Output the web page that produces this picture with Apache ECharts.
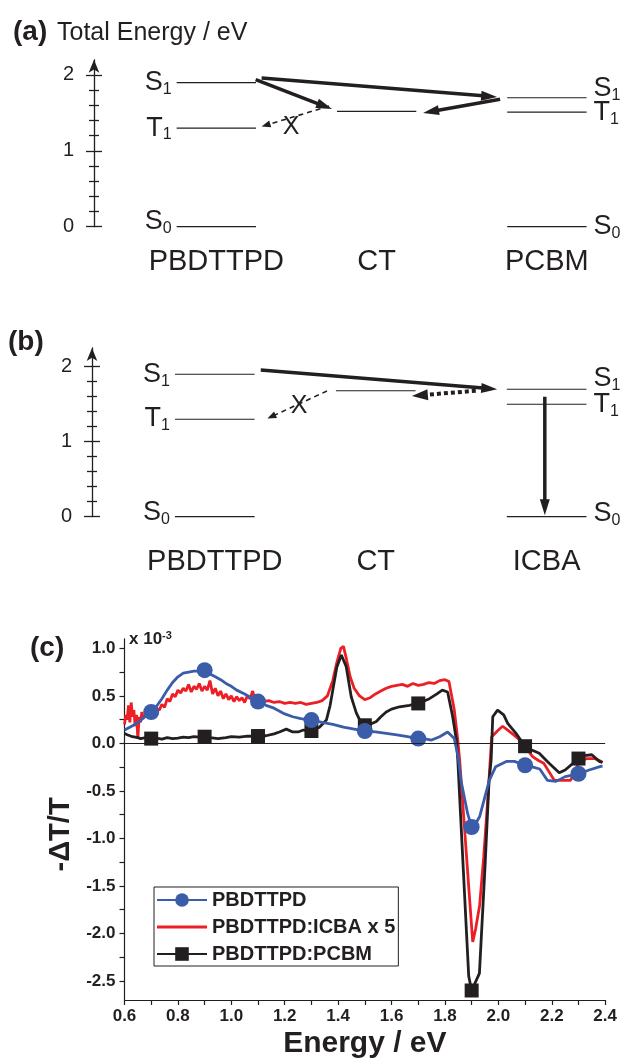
<!DOCTYPE html>
<html>
<head>
<meta charset="utf-8">
<script src="https://cdn.jsdelivr.net/npm/echarts@6/dist/echarts.min.js"></script>
<style>
  html, body { margin: 0; padding: 0; background: #fff; }
  #chart { width: 620px; height: 1060px; }
</style>
</head>
<body>
<div id="chart"></div>
<script>
// ---- energy diagrams (a), (b) ----
const levelNames = ['S1', 'T1', 'S0'];
const pbdttpdLevels = [1.90, 1.30, 0.00];
const ctLevelA = [1.52];
const pcbmLevels = [1.70, 1.51, 0.00];
const ctLevelB = [1.68];
const icbaLevels = [1.70, 1.50, 0.00];
const columnsA = ['PBDTTPD', 'CT', 'PCBM'];
const columnsB = ['PBDTTPD', 'CT', 'ICBA'];
const energyTicks = [0, 1, 2];
const energyMinorTicks = [0.2, 0.4, 0.6, 0.8, 1.2, 1.4, 1.6, 1.8];

// transfer arrows: [x1, E1, x2, E2, kind]  (x in column units)
const arrowsA = [
  [0.274, 1.96, 1.699, 1.71, 'bold'],
  [0.238, 1.94, 0.700, 1.55, 'bold'],
  [1.717, 1.68, 1.251, 1.50, 'bold'],
  [0.682, 1.59, 0.274, 1.32, 'dash']
];
const blockedA = [[0.452, 1.31]];
const arrowsB = [
  [0.277, 1.956, 1.702, 1.70, 'bold'],
  [1.573, 1.68, 1.188, 1.61, 'dots'],
  [0.676, 1.676, 0.317, 1.31, 'dash'],
  [1.989, 1.60, 1.989, 0.02, 'bold']
];
const blockedB = [[0.508, 1.476]];

// ---- transient spectra (c), -dT/T x 1e-3 vs energy (eV) ----
const markerEnergies = [0.7, 0.9, 1.1, 1.3, 1.5, 1.7, 1.9, 2.1, 2.3];
const xLabels = [0.6, 0.8, 1.0, 1.2, 1.4, 1.6, 1.8, 2.0, 2.2, 2.4];
const xTicks = [0.6, 0.7, 0.8, 0.9, 1.0, 1.1, 1.2, 1.3, 1.4, 1.5, 1.6, 1.7, 1.8, 1.9, 2.0, 2.1, 2.2, 2.3, 2.4];
const yLabels = [-2.5, -2.0, -1.5, -1.0, -0.5, 0.0, 0.5, 1.0];
const yTicks = [-2.5, -2.25, -2.0, -1.75, -1.5, -1.25, -1.0, -0.75, -0.5, -0.25, 0, 0.25, 0.5, 0.75, 1.0];

const pbdttpd = [
  [0.60, 0.14], [0.62, 0.17], [0.64, 0.20], [0.66, 0.24], [0.68, 0.29], [0.70, 0.33],
  [0.72, 0.39], [0.74, 0.47], [0.76, 0.56], [0.78, 0.64], [0.80, 0.70], [0.82, 0.74],
  [0.84, 0.75], [0.86, 0.76], [0.88, 0.76], [0.90, 0.77], [0.92, 0.73], [0.94, 0.70],
  [0.96, 0.67], [0.98, 0.63], [1.00, 0.60], [1.02, 0.56], [1.05, 0.52], [1.08, 0.47],
  [1.10, 0.44], [1.13, 0.40], [1.16, 0.37], [1.20, 0.31], [1.23, 0.28], [1.26, 0.26],
  [1.30, 0.245], [1.34, 0.22], [1.38, 0.20], [1.42, 0.17], [1.46, 0.15], [1.50, 0.13],
  [1.54, 0.12], [1.58, 0.105], [1.62, 0.09], [1.66, 0.07], [1.70, 0.05], [1.73, 0.045],
  [1.75, 0.035], [1.78, 0.07], [1.81, 0.12], [1.835, 0.05], [1.85, -0.15], [1.86, -0.39],
  [1.885, -0.74], [1.90, -0.88], [1.91, -0.87], [1.93, -0.77], [1.966, -0.39], [1.99, -0.245],
  [2.03, -0.19], [2.06, -0.19], [2.10, -0.23], [2.13, -0.25], [2.155, -0.27], [2.184, -0.39],
  [2.216, -0.40], [2.25, -0.35], [2.30, -0.32], [2.34, -0.28], [2.38, -0.245], [2.39, -0.24]
];

const pbdttpdIcba = [
  [0.600, 0.20], [0.605, 0.30], [0.610, 0.25], [0.615, 0.40], [0.620, 0.22], [0.625, 0.43],
  [0.630, 0.28], [0.635, 0.35], [0.640, 0.18], [0.645, 0.30], [0.650, 0.05], [0.655, 0.28],
  [0.660, 0.22], [0.665, 0.33], [0.670, 0.26], [0.680, 0.31], [0.690, 0.28], [0.700, 0.34],
  [0.710, 0.31], [0.720, 0.37], [0.730, 0.35], [0.740, 0.41], [0.750, 0.38], [0.760, 0.47],
  [0.770, 0.44], [0.780, 0.52], [0.790, 0.49], [0.800, 0.56], [0.810, 0.53], [0.820, 0.58],
  [0.830, 0.55], [0.840, 0.62], [0.850, 0.54], [0.860, 0.60], [0.870, 0.57], [0.880, 0.63],
  [0.890, 0.55], [0.900, 0.60], [0.910, 0.56], [0.920, 0.66], [0.930, 0.52], [0.940, 0.58],
  [0.950, 0.50], [0.960, 0.55], [0.970, 0.47], [0.980, 0.52], [0.990, 0.46], [1.000, 0.50],
  [1.010, 0.44], [1.020, 0.49], [1.030, 0.45], [1.040, 0.48], [1.050, 0.43], [1.060, 0.50],
  [1.070, 0.47], [1.080, 0.55], [1.090, 0.44], [1.100, 0.46], [1.120, 0.44], [1.140, 0.45],
  [1.160, 0.43], [1.180, 0.44], [1.200, 0.42], [1.220, 0.43], [1.240, 0.42], [1.260, 0.43],
  [1.280, 0.41], [1.300, 0.42], [1.320, 0.43], [1.340, 0.45], [1.360, 0.50], [1.380, 0.66],
  [1.395, 0.85], [1.410, 1.00], [1.420, 1.02], [1.430, 0.90], [1.445, 0.70], [1.460, 0.58],
  [1.480, 0.50], [1.500, 0.46], [1.520, 0.48], [1.540, 0.52], [1.560, 0.55], [1.580, 0.58],
  [1.600, 0.60], [1.620, 0.61], [1.640, 0.62], [1.660, 0.60], [1.680, 0.63], [1.700, 0.61],
  [1.720, 0.62], [1.740, 0.64], [1.760, 0.63], [1.780, 0.66], [1.800, 0.67], [1.815, 0.65],
  [1.835, 0.35], [1.848, 0.035], [1.855, -0.17], [1.873, -0.88], [1.890, -1.55], [1.904, -2.09],
  [1.915, -1.95], [1.930, -1.70], [1.945, -1.20], [1.960, -0.60], [1.968, -0.25], [1.975, 0.07],
  [2.000, 0.14], [2.016, 0.18], [2.035, 0.14], [2.053, 0.10], [2.070, 0.06], [2.090, 0.00],
  [2.110, -0.07], [2.128, -0.14], [2.150, -0.18], [2.170, -0.21], [2.190, -0.30], [2.210, -0.39],
  [2.240, -0.39], [2.270, -0.39], [2.290, -0.28], [2.300, -0.21], [2.330, -0.16], [2.360, -0.16],
  [2.378, -0.18], [2.390, -0.20]
];

const pbdttpdPcbm = [
  [0.60, 0.105], [0.61, 0.09], [0.62, 0.08], [0.63, 0.07], [0.64, 0.065], [0.65, 0.06],
  [0.66, 0.05], [0.68, 0.06], [0.70, 0.05], [0.72, 0.055], [0.74, 0.045], [0.76, 0.06],
  [0.78, 0.05], [0.80, 0.055], [0.82, 0.065], [0.84, 0.06], [0.86, 0.07], [0.88, 0.065],
  [0.90, 0.07], [0.92, 0.06], [0.95, 0.05], [0.98, 0.06], [1.00, 0.07], [1.03, 0.065],
  [1.06, 0.075], [1.10, 0.077], [1.13, 0.08], [1.16, 0.10], [1.18, 0.12], [1.206, 0.15],
  [1.23, 0.12], [1.25, 0.12], [1.27, 0.14], [1.30, 0.13], [1.33, 0.17], [1.356, 0.245],
  [1.37, 0.40], [1.38, 0.56], [1.395, 0.80], [1.412, 0.93], [1.43, 0.81], [1.449, 0.49],
  [1.468, 0.32], [1.487, 0.21], [1.50, 0.19], [1.52, 0.20], [1.543, 0.23], [1.56, 0.28],
  [1.58, 0.33], [1.60, 0.36], [1.63, 0.385], [1.667, 0.40], [1.70, 0.42], [1.742, 0.47],
  [1.77, 0.52], [1.79, 0.56], [1.81, 0.54], [1.829, 0.28], [1.843, 0.03], [1.848, -0.17],
  [1.87, -1.40], [1.889, -2.45], [1.90, -2.60], [1.929, -2.42], [1.95, -1.30], [1.965, -0.40],
  [1.973, -0.17], [1.979, 0.28], [1.997, 0.35], [2.02, 0.30], [2.035, 0.21], [2.066, 0.105],
  [2.10, -0.03], [2.125, -0.07], [2.153, -0.105], [2.19, -0.21], [2.228, -0.31], [2.25, -0.28],
  [2.30, -0.16], [2.32, -0.13], [2.35, -0.12], [2.378, -0.19], [2.39, -0.20]
];

// ---- layout / style ----
const INK = '#231f20';
const BLUE = '#3b5ca9';
const RED = '#ec1f26';
const FONT = '"Liberation Sans", Arial, Helvetica, sans-serif';
const COL_X = [0, 0.97, 2];
const HALF_W = 0.24;
const ARROW_STYLE = {
  bold: { lineWidth: 3.5, dash: null, head: [16, 10] },
  dash: { lineWidth: 1.6, dash: [5, 4], head: [9, 7] },
  dots: { lineWidth: 4, dash: [4, 3], head: [16, 11] }
};

function levelItems(cols) {
  const items = [];
  cols.forEach(function (c, col) {
    c[0].forEach(function (e, i) { items.push([col, e, i, c[1]]); });
  });
  return items;
}

function levelRenderer(dy) {
  return function (params, api) {
    const col = api.value(0), e = api.value(1), idx = api.value(2), side = api.value(3);
    const a = api.coord([COL_X[col] - HALF_W, e]);
    const b = api.coord([COL_X[col] + HALF_W, e]);
    const children = [{
      type: 'line',
      shape: { x1: a[0], y1: a[1], x2: b[0], y2: b[1] },
      style: { stroke: INK, lineWidth: 1.2 }
    }];
    if (side !== 0) {
      const name = levelNames[idx];
      children.push({
        type: 'text',
        x: side < 0 ? a[0] - 5 : b[0] + 7,
        y: a[1] + (side < 0 ? dy.left[idx] : dy.right[idx]),
        style: {
          text: '{m|' + name[0] + '}{s|' + name[1] + '}',
          align: side < 0 ? 'right' : 'left',
          verticalAlign: 'middle',
          rich: {
            m: { fontSize: 27, fontFamily: FONT, fill: INK, lineHeight: 30 },
            s: { fontSize: 16, fontFamily: FONT, fill: INK, lineHeight: 14, verticalAlign: 'bottom' }
          }
        }
      });
    }
    return { type: 'group', children: children };
  };
}

function arrowRenderer(list) {
  return function (params, api) {
    const st = ARROW_STYLE[list[params.dataIndex][4]];
    const p1 = api.coord([api.value(0), api.value(1)]);
    const p2 = api.coord([api.value(2), api.value(3)]);
    const dx = p2[0] - p1[0], dy = p2[1] - p1[1];
    const len = Math.sqrt(dx * dx + dy * dy);
    const ux = dx / len, uy = dy / len;
    const hl = st.head[0], hw = st.head[1] / 2;
    const bx = p2[0] - ux * hl, by = p2[1] - uy * hl;
    return {
      type: 'group',
      children: [{
        type: 'line',
        shape: { x1: p1[0], y1: p1[1], x2: bx + ux * 2, y2: by + uy * 2 },
        style: { stroke: INK, lineWidth: st.lineWidth, lineDash: st.dash }
      }, {
        type: 'polygon',
        shape: { points: [[p2[0], p2[1]], [bx - uy * hw, by + ux * hw], [bx + uy * hw, by - ux * hw]] },
        style: { fill: INK }
      }]
    };
  };
}

function crossRenderer(params, api) {
  const c = api.coord([api.value(0), api.value(1)]);
  return {
    type: 'text', x: c[0], y: c[1],
    style: { text: 'X', fontSize: 25, fontFamily: FONT, fill: INK, align: 'center', verticalAlign: 'middle' }
  };
}

function energyAxes(gridIndex, max) {
  const base = { gridIndex: gridIndex, type: 'value', min: 0, max: max, position: 'left', splitLine: { show: false } };
  const tickLine = { color: INK, width: 1.3 };
  return [
    Object.assign({}, base, {
      axisLine: { show: true, onZero: false, symbol: ['none', 'arrow'], symbolSize: [8, 13], lineStyle: tickLine },
      axisTick: { show: true, customValues: energyTicks, length: 8, lineStyle: tickLine },
      axisLabel: { show: true, customValues: energyTicks, fontSize: 20, color: INK, margin: 20, fontFamily: FONT }
    }),
    Object.assign({}, base, {
      axisLine: { show: false, onZero: false },
      axisTick: { show: true, inside: true, customValues: energyTicks, length: 8, lineStyle: tickLine },
      axisLabel: { show: false }
    }),
    Object.assign({}, base, {
      axisLine: { show: false, onZero: false },
      axisTick: { show: true, customValues: energyMinorTicks, length: 5, lineStyle: tickLine },
      axisLabel: { show: false }
    }),
    Object.assign({}, base, {
      axisLine: { show: false, onZero: false },
      axisTick: { show: true, inside: true, customValues: energyMinorTicks, length: 5, lineStyle: tickLine },
      axisLabel: { show: false }
    })
  ];
}

function columnAxis(gridIndex, names, margin) {
  return {
    gridIndex: gridIndex, type: 'value', min: -0.74, max: 2.4,
    splitLine: { show: false }, axisLine: { show: false, onZero: false }, axisTick: { show: false },
    axisLabel: {
      show: true, customValues: COL_X, margin: margin, fontSize: 29, color: INK, fontFamily: FONT,
      formatter: function (v) { return names[COL_X.indexOf(v)]; }
    }
  };
}

function diagramSeries(axisIdx, yIdx, levels, dy, arrows, blocked) {
  return [{
    type: 'custom', xAxisIndex: axisIdx, yAxisIndex: yIdx, silent: true,
    renderItem: levelRenderer(dy), data: levels
  }, {
    type: 'custom', xAxisIndex: axisIdx, yAxisIndex: yIdx, silent: true,
    renderItem: arrowRenderer(arrows), data: arrows.map(function (a) { return a.slice(0, 4); })
  }, {
    type: 'custom', xAxisIndex: axisIdx, yAxisIndex: yIdx, silent: true,
    renderItem: crossRenderer, data: blocked
  }];
}

function withMarkers(points) {
  return points.map(function (p) {
    const isMarker = markerEnergies.some(function (m) { return Math.abs(m - p[0]) < 1e-6; });
    return isMarker ? { value: p } : { value: p, symbol: 'none' };
  });
}

const levelsA = levelItems([[pbdttpdLevels, -1], [ctLevelA, 0], [pcbmLevels, 1]]);
const levelsB = levelItems([[pbdttpdLevels, -1], [ctLevelB, 0], [icbaLevels, 1]]);

const chart = echarts.init(document.getElementById('chart'), null, { renderer: 'canvas' });

const option = {
  animation: false,
  backgroundColor: '#ffffff',
  textStyle: { fontFamily: FONT, color: INK },
  title: [
    { text: '(a)', left: 13, top: 18, padding: 0, textStyle: { fontSize: 28, fontWeight: 'bold', color: INK, fontFamily: FONT } },
    { text: 'Total Energy / eV', left: 57, top: 21, padding: 0, textStyle: { fontSize: 25, fontWeight: 'normal', color: INK, fontFamily: FONT } },
    { text: '(b)', left: 8, top: 328, padding: 0, textStyle: { fontSize: 28, fontWeight: 'bold', color: INK, fontFamily: FONT } },
    { text: '(c)', left: 30, top: 634, padding: 0, textStyle: { fontSize: 28, fontWeight: 'bold', color: INK, fontFamily: FONT } },
    {
      text: '{a|x 10}{b|-3}', left: 129, top: 630, padding: 0,
      textStyle: {
        rich: {
          a: { fontSize: 17, fontWeight: 'bold', color: INK, fontFamily: FONT, lineHeight: 18 },
          b: { fontSize: 11, fontWeight: 'bold', color: INK, fontFamily: FONT, lineHeight: 11, verticalAlign: 'top' }
        }
      }
    }
  ],
  legend: {
    data: [
      { name: 'PBDTTPD' },
      { name: 'PBDTTPD:ICBA x 5', icon: 'path://M0,0H50V3H0Z' },
      { name: 'PBDTTPD:PCBM' }
    ],
    orient: 'vertical', left: 154, top: 887,
    padding: [3, 3, 2, 2], itemGap: 7, itemWidth: 50, itemHeight: 17,
    borderColor: INK, borderWidth: 1,
    textStyle: { fontSize: 20, fontWeight: 'bold', color: INK, fontFamily: FONT, lineHeight: 20 }
  },
  grid: [
    { left: 94, right: 7, top: 59.8, bottom: 833.3 },
    { left: 92, right: 7, top: 348, bottom: 543.3 },
    { left: 124.5, right: 14, top: 638.8, bottom: 58.2 }
  ],
  xAxis: [
    columnAxis(0, columnsA, 21),
    columnAxis(1, columnsB, 31),
    {
      gridIndex: 2, type: 'value', min: 0.6, max: 2.4,
      name: 'Energy / eV', nameLocation: 'middle', nameGap: 29,
      nameTextStyle: { fontSize: 30, fontWeight: 'bold', color: INK, fontFamily: FONT },
      splitLine: { show: false },
      axisLine: { onZero: false, lineStyle: { color: INK, width: 1.2 } },
      axisTick: { customValues: xTicks, length: 5, lineStyle: { color: INK, width: 1.2 } },
      axisLabel: {
        customValues: xLabels, margin: 8, fontSize: 17, fontWeight: 'bold', color: INK, fontFamily: FONT,
        formatter: function (v) { return v.toFixed(1); }
      }
    }
  ],
  yAxis: energyAxes(0, 2.2).concat(energyAxes(1, 2.25)).concat([{
    gridIndex: 2, type: 'value', min: -2.7, max: 1.1, position: 'left',
    name: '-\u0394T/T', nameLocation: 'middle', nameGap: 38, nameRotate: 90,
    nameTextStyle: { fontSize: 29, fontWeight: 'bold', color: INK, fontFamily: FONT, padding: [0, 30, 0, 0] },
    splitLine: { show: false },
    axisLine: { show: true, onZero: false, lineStyle: { color: INK, width: 1.2 } },
    axisTick: { show: true, customValues: yTicks, length: 5, lineStyle: { color: INK, width: 1.2 } },
    axisLabel: {
      customValues: yLabels, margin: 9, fontSize: 17, fontWeight: 'bold', color: INK, fontFamily: FONT,
      formatter: function (v) { return v.toFixed(1); }
    }
  }]),
  series: diagramSeries(0, 0, levelsA, { left: [0, 0, -5], right: [-9, 0, 0] }, arrowsA, blockedA)
    .concat(diagramSeries(1, 4, levelsB, { left: [0, -1, -4], right: [-11, 0, -3] }, arrowsB, blockedB))
    .concat([
      {
        name: 'PBDTTPD:ICBA x 5', type: 'line', xAxisIndex: 2, yAxisIndex: 8,
        data: pbdttpdIcba, symbol: 'none', silent: true,
        itemStyle: { color: RED }, lineStyle: { color: RED, width: 2.8 }, z: 2
      },
      {
        name: 'PBDTTPD:PCBM', type: 'line', xAxisIndex: 2, yAxisIndex: 8,
        data: withMarkers(pbdttpdPcbm), symbol: 'rect', symbolSize: 14, silent: true,
        itemStyle: { color: INK, opacity: 1 }, lineStyle: { color: INK, width: 2.8 }, z: 3
      },
      {
        name: 'PBDTTPD', type: 'line', xAxisIndex: 2, yAxisIndex: 8,
        data: withMarkers(pbdttpd), symbol: 'circle', symbolSize: 16, silent: true,
        itemStyle: { color: BLUE, opacity: 1 }, lineStyle: { color: BLUE, width: 2.8 }, z: 4,
        markLine: {
          silent: true, symbol: 'none', label: { show: false }, animation: false,
          lineStyle: { color: INK, width: 1, type: 'solid' },
          data: [{ yAxis: 0 }]
        }
      }
    ])
};

chart.setOption(option);
window.addEventListener('resize', function () { chart.resize(); });
</script>
</body>
</html>
